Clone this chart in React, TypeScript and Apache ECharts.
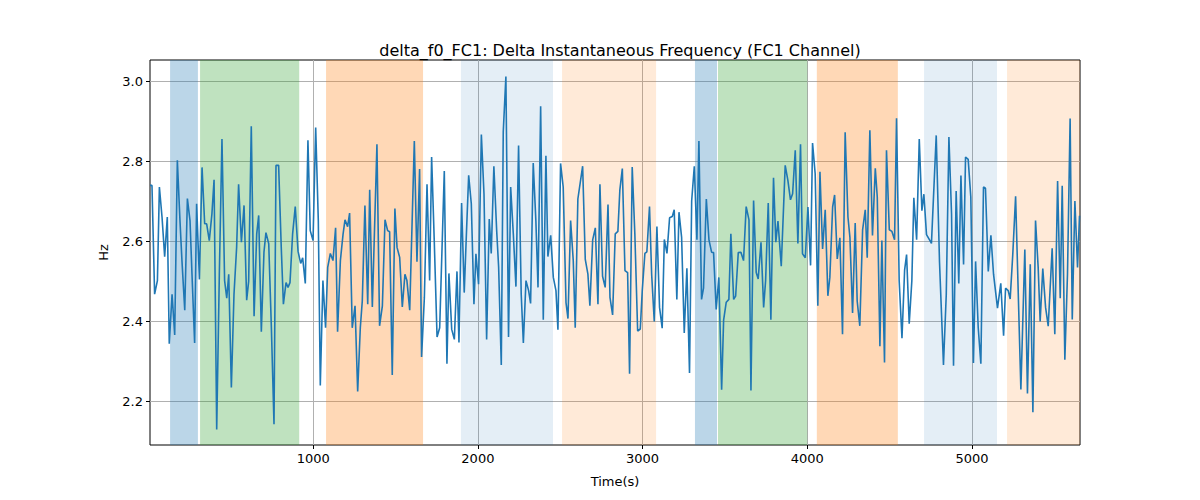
import { useEffect, useRef } from "react";
import * as echarts from "echarts";

const timeS = [
  9, 21, 37, 54, 66, 82, 98, 114, 126, 143, 159, 175, 191, 203, 220, 236, 252, 264, 280, 292,
  309, 325, 341, 353, 369, 385, 398, 414, 430, 446, 462, 475, 487, 503, 519, 535, 547, 564, 580, 596,
  608, 624, 641, 657, 669, 685, 701, 713, 730, 746, 762, 774, 790, 806, 819, 835, 847, 859, 875, 891,
  908, 924, 936, 952, 968,
  982, 999, 1015, 1031, 1043, 1059, 1075, 1088, 1104, 1120, 1136, 1148, 1165, 1181, 1193, 1209, 1221, 1237, 1254, 1270,
  1286, 1298, 1314, 1331, 1343, 1359, 1387, 1403, 1420, 1436, 1452, 1464, 1480, 1496, 1509, 1525, 1541, 1557, 1569, 1586,
  1614, 1630, 1646, 1658, 1675, 1691, 1707, 1719, 1735, 1752, 1768, 1796, 1812, 1824, 1841, 1857, 1873, 1885, 1901, 1917,
  1931, 1944, 1960, 1976, 1988, 2004, 2021, 2037, 2053, 2069, 2081, 2097, 2114, 2126, 2142, 2154, 2170, 2186, 2199, 2215,
  2231, 2247, 2263, 2276, 2292, 2308, 2320, 2336, 2352, 2365, 2381, 2397, 2413, 2425, 2442, 2458, 2474, 2486, 2502, 2518,
  2535, 2547, 2563, 2579, 2591, 2607, 2636, 2652, 2668, 2680, 2697, 2713, 2729, 2741, 2757, 2773, 2790, 2802, 2818, 2834,
  2850, 2862,
  2877, 2893, 2909, 2921, 2937, 2953, 2970, 2986, 2998, 3014, 3026, 3042, 3055, 3071, 3087, 3103, 3119, 3132, 3148, 3164,
  3180, 3192, 3208, 3221, 3237, 3253, 3269, 3285, 3298, 3314, 3330, 3342, 3358, 3370, 3387, 3403, 3419, 3431, 3447, 3463,
  3480, 3492, 3508, 3524, 3536, 3553, 3565, 3581, 3597, 3613, 3629, 3646, 3658, 3674, 3690, 3702, 3719, 3735, 3747, 3763,
  3779, 3795,
  3809, 3822, 3842, 3866, 3882, 3898, 3911, 3927, 3943, 3959, 3971, 3988, 4004, 4020, 4032, 4048, 4064, 4077, 4093, 4109,
  4125, 4137, 4154, 4166, 4182, 4198, 4214, 4230, 4247, 4259, 4275, 4291, 4303, 4319, 4336, 4352, 4364, 4380, 4396, 4413,
  4425, 4441, 4453, 4469, 4481, 4498, 4514, 4530, 4542, 4558, 4575, 4591, 4603, 4619, 4635, 4647, 4664, 4680, 4696, 4708,
  4724, 4745,
  4754, 4783, 4803, 4827, 4844, 4860, 4876, 4888, 4904, 4920, 4933, 4949, 4961, 4977, 4993, 5009, 5022, 5038, 5054, 5070,
  5082, 5099, 5115, 5131, 5155, 5175, 5192, 5204, 5220, 5232, 5248, 5265, 5297, 5321, 5337, 5354, 5370, 5386, 5402, 5414,
  5430, 5447, 5463, 5487, 5503, 5520, 5536, 5548, 5564, 5580, 5596, 5609, 5625, 5641, 5653,
];

const deltaF0 = [
  2.739, 2.739, 2.467, 2.501, 2.735, 2.66, 2.561, 2.66, 2.343, 2.467, 2.365, 2.802, 2.651, 2.551, 2.427, 2.706, 2.651, 2.517, 2.345, 2.693,
  2.504, 2.784, 2.643, 2.643, 2.601, 2.668, 2.753, 2.129, 2.517, 2.855, 2.501, 2.457, 2.517, 2.234, 2.467, 2.584, 2.742, 2.597, 2.689, 2.452,
  2.499, 2.887, 2.412, 2.618, 2.664, 2.373, 2.572, 2.621, 2.593, 2.383, 2.142, 2.789, 2.789, 2.584, 2.442, 2.496, 2.484, 2.496, 2.618, 2.686,
  2.574, 2.544, 2.558, 2.494, 2.852,
  2.626, 2.601, 2.884, 2.651, 2.239, 2.501, 2.383, 2.534, 2.569, 2.551, 2.633, 2.373, 2.551, 2.616, 2.653, 2.636, 2.67, 2.383, 2.438, 2.224,
  2.383, 2.45, 2.689, 2.442, 2.728, 2.435, 2.842, 2.388, 2.438, 2.653, 2.626, 2.623, 2.265, 2.681, 2.584, 2.559, 2.435, 2.517, 2.501, 2.427,
  2.85, 2.548, 2.78, 2.31, 2.459, 2.742, 2.501, 2.81, 2.601, 2.36, 2.383, 2.775, 2.293, 2.519, 2.379, 2.354, 2.524, 2.346, 2.695, 2.471,
  2.626, 2.764, 2.693, 2.442, 2.568, 2.492, 2.866, 2.718, 2.354, 2.655, 2.569, 2.787, 2.626, 2.534, 2.29, 2.873, 3.011, 2.36, 2.735, 2.618,
  2.486, 2.839, 2.467, 2.345, 2.501, 2.476, 2.444, 2.795, 2.651, 2.484, 2.937, 2.403, 2.813, 2.561, 2.614, 2.509, 2.476, 2.378, 2.794, 2.735,
  2.446, 2.406, 2.651, 2.551, 2.383, 2.705, 2.787, 2.554, 2.517, 2.438, 2.603, 2.633, 2.442, 2.742, 2.512, 2.484, 2.691, 2.459, 2.415, 2.618,
  2.624, 2.728,
  2.781, 2.526, 2.521, 2.268, 2.785, 2.618, 2.375, 2.38, 2.476, 2.569, 2.573, 2.686, 2.517, 2.399, 2.636, 2.434, 2.382, 2.604, 2.569, 2.658,
  2.661, 2.678, 2.454, 2.672, 2.609, 2.37, 2.532, 2.27, 2.7, 2.787, 2.603, 2.85, 2.454, 2.482, 2.705, 2.603, 2.572, 2.571, 2.429, 2.509,
  2.228, 2.402, 2.447, 2.454, 2.618, 2.454, 2.462, 2.571, 2.572, 2.551, 2.686, 2.653, 2.226, 2.701, 2.521, 2.505, 2.597, 2.434, 2.501, 2.695,
  2.403, 2.758,
  2.597, 2.65, 2.537, 2.789, 2.752, 2.703, 2.718, 2.827, 2.594, 2.842, 2.568, 2.558, 2.685, 2.539, 2.845, 2.768, 2.438, 2.773, 2.58, 2.678,
  2.463, 2.509, 2.685, 2.715, 2.555, 2.608, 2.367, 2.872, 2.66, 2.609, 2.42, 2.645, 2.45, 2.388, 2.628, 2.678, 2.558, 2.877, 2.614, 2.782,
  2.71, 2.337, 2.601, 2.296, 2.827, 2.628, 2.624, 2.603, 2.907, 2.501, 2.357, 2.527, 2.566, 2.393, 2.501, 2.708, 2.603, 2.855, 2.676, 2.717,
  2.616, 2.601,
  2.594, 2.864, 2.547, 2.29, 2.467, 2.86, 2.668, 2.288, 2.725, 2.494, 2.764, 2.541, 2.81, 2.804, 2.71, 2.295, 2.549, 2.383, 2.293, 2.735,
  2.732, 2.524, 2.614, 2.517, 2.432, 2.494, 2.363, 2.482, 2.476, 2.455, 2.568, 2.712, 2.229, 2.579, 2.219, 2.542, 2.172, 2.651, 2.534, 2.399,
  2.531, 2.434, 2.387, 2.582, 2.367, 2.75, 2.457, 2.738, 2.303, 2.517, 2.906, 2.404, 2.7, 2.534, 2.663,
];

// shaded segments: [start, end, colour]
const bandStart = [131, 313, 1078, 1897, 2511, 3318, 3458, 4058, 4709, 5213];
const bandEnd = [300, 915, 1667, 2456, 3082, 3452, 4000, 4550, 5152, 5656];
const bandColor = [
  "rgba(31,119,180,0.3)", "rgba(44,160,44,0.3)", "rgba(255,127,14,0.3)", "rgba(31,119,180,0.12)", "rgba(255,127,14,0.16)",
  "rgba(31,119,180,0.3)", "rgba(44,160,44,0.3)", "rgba(255,127,14,0.3)", "rgba(31,119,180,0.12)", "rgba(255,127,14,0.16)",
];

const xTicks = [1000, 2000, 3000, 4000, 5000];
const yTicks = [2.2, 2.4, 2.6, 2.8, 3.0];

export default function App() {
  const ref = useRef<HTMLDivElement | null>(null);

  useEffect(() => {
    document.body.style.margin = "0";
    if (!ref.current) return;
    const chart = echarts.init(ref.current, null, { renderer: "svg" });
    const font = "DejaVu Sans";
    chart.setOption({
      animation: false,
      textStyle: { fontFamily: font },
      title: {
        text: "delta_f0_FC1: Delta Instantaneous Frequency (FC1 Channel)",
        left: 615,
        top: 37,
        textAlign: "center",
        textStyle: { fontSize: 16, fontWeight: "normal", color: "#000", fontFamily: font },
      },
      grid: { left: 150, right: 120, top: 60, bottom: 55, show: true, borderColor: "#000", borderWidth: 1 },
      xAxis: {
        type: "value",
        min: 9,
        max: 5656,
        name: "Time(s)",
        nameLocation: "middle",
        nameGap: 30,
        nameTextStyle: { fontSize: 13, color: "#000" },
        axisLine: { show: false },
        axisTick: { show: true, customValues: xTicks, length: 4, lineStyle: { color: "#000" } },
        axisLabel: { customValues: xTicks, fontSize: 13, color: "#000", margin: 7, formatter: (v: number) => String(v) },
        splitLine: { show: true, lineStyle: { color: "#b0b0b0", width: 1 } },
      },
      yAxis: {
        type: "value",
        min: 2.09,
        max: 3.0525,
        name: "Hz",
        nameLocation: "middle",
        nameGap: 40,
        nameTextStyle: { fontSize: 13, color: "#000" },
        axisLine: { show: false },
        axisTick: { show: true, customValues: yTicks, length: 4, lineStyle: { color: "#000" } },
        axisLabel: { customValues: yTicks, fontSize: 13, color: "#000", margin: 7, formatter: (v: number) => v.toFixed(1) },
        splitLine: { show: true, lineStyle: { color: "#b0b0b0", width: 1 } },
      },
      series: [
        {
          type: "line",
          data: timeS.map((t, i) => [t, deltaF0[i]]),
          showSymbol: false,
          lineStyle: { color: "#1f77b4", width: 1.6 },
          z: 3,
          markArea: {
            silent: true,
            data: bandStart.map((s, i) => [
              { xAxis: s, itemStyle: { color: bandColor[i] } },
              { xAxis: bandEnd[i] },
            ]),
          },
        },
      ],
    });
    return () => chart.dispose();
  }, []);

  return <div ref={ref} style={{ width: 1200, height: 500 }} />;
}
